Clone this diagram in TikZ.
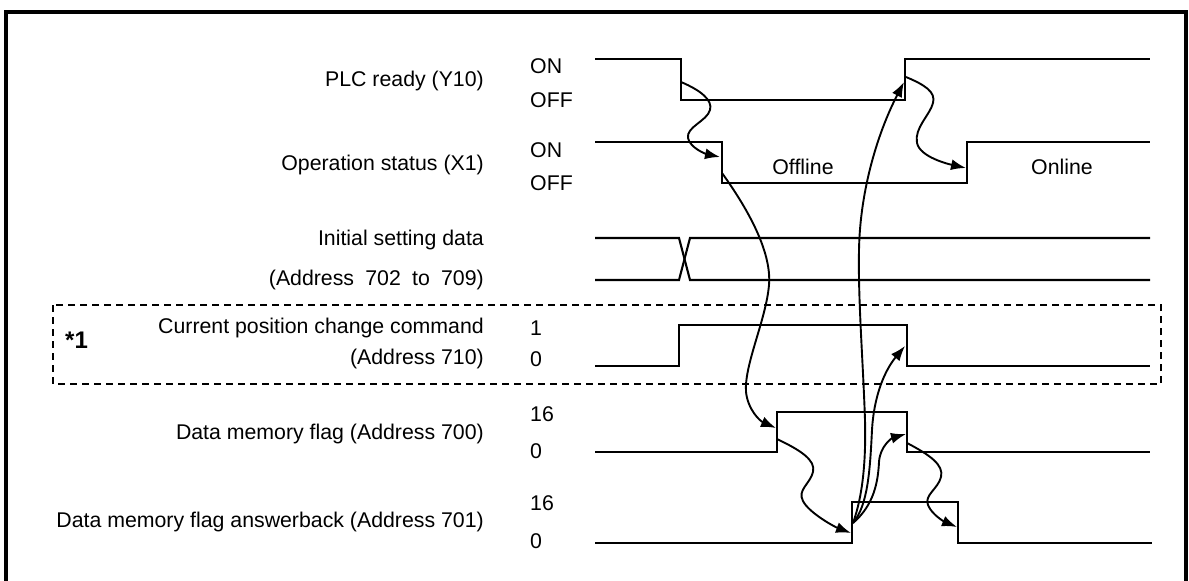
\documentclass[tikz,border=0pt]{standalone}
\usepackage{fontspec}
\setmainfont{Liberation Sans}
\usetikzlibrary{arrows.meta}
\tikzset{
  sig/.style={line width=2.1pt, line join=miter, line cap=butt},
  arr/.style={line width=1.9pt, -{Latex[length=15pt,width=11pt]}},
  lbl/.style={anchor=east, inner sep=0pt, font=\fontsize{21.3}{25}\selectfont},
  val/.style={anchor=west, inner sep=0pt, font=\fontsize{21.3}{25}\selectfont},
  txt/.style={inner sep=0pt, font=\fontsize{21.3}{25}\selectfont},
  frame/.style={line width=4pt},
  grp/.style={line width=2pt, dash pattern=on 7pt off 5pt}
}
\begin{document}
\begin{tikzpicture}[x=1pt,y=-1pt]
\useasboundingbox (0,0) rectangle (1189,581);
\clip (0,0) rectangle (1189,581);
% outer frame
\draw[frame] (6,600) -- (6,12) -- (1186,12) -- (1186,600);
% dashed group box
\draw[grp] (53,305) rectangle (1161,384);
\node[inner sep=0pt, anchor=west, font=\fontsize{24}{28}\selectfont\bfseries] (star) at (65,340) {*1};

% labels
\node[lbl] (lplc) at (484,81) {PLC ready (Y10)};
\node[lbl] (lops) at (484,165) {Operation status (X1)};
\node[lbl] (linit1) at (484,240) {Initial setting data};
\node[lbl] (linit2) at (484,280) {(Address\hspace{0.25em} 702\hspace{0.25em} to\hspace{0.25em} 709)};
\node[lbl] (lcmd1) at (484,328) {Current position change command};
\node[lbl] (lcmd2) at (484,359) {(Address 710)};
\node[lbl] (ldmf) at (484,434) {Data memory flag (Address 700)};
\node[lbl] (lans) at (484,522) {Data memory flag answerback (Address 701)};

% values
\node[val] (v1on) at (530,66) {ON};
\node[val] (v1off) at (530,100) {OFF};
\node[val] (v2on) at (530,150) {ON};
\node[val] (v2off) at (530,183) {OFF};
\node[val] (v4h) at (530,328) {1};
\node[val] (v4l) at (530,359) {0};
\node[val] (v5h) at (530,414) {16};
\node[val] (v5l) at (530,451) {0};
\node[val] (v6h) at (530,503) {16};
\node[val] (v6l) at (530,541) {0};

% state texts
\node[txt] (offl) at (803,167) {Offline};
\node[txt] (onl) at (1062,167) {Online};

% signal corner coordinates
\coordinate (p1) at (681,59); \coordinate (p2) at (681,100);
\coordinate (p3) at (905,100); \coordinate (p4) at (905,59);
\coordinate (o1) at (722,142); \coordinate (o2) at (722,183);
\coordinate (o3) at (967,183); \coordinate (o4) at (967,142);
\coordinate (c1) at (679,366); \coordinate (c2) at (679,325);
\coordinate (c3) at (907,325); \coordinate (c4) at (907,366);
\coordinate (d1) at (777,452); \coordinate (d2) at (777,412);
\coordinate (d3) at (907,412); \coordinate (d4) at (907,452);
\coordinate (a1) at (852,543); \coordinate (a2) at (852,502);
\coordinate (a3) at (958,502); \coordinate (a4) at (958,543);

% PLC ready
\draw[sig] (595,59) -- (p1) -- (p2) -- (p3) -- (p4) -- (1150,59);
% Operation status
\draw[sig] (595,142) -- (o1) -- (o2) -- (o3) -- (o4) -- (1150,142);
% Initial setting data
\draw[sig] (595,238) -- (679,238) -- (690,280) -- (1150,280);
\draw[sig] (595,280) -- (679,280) -- (690,238) -- (1150,238);
% Current position change command
\draw[sig] (595,366) -- (c1) -- (c2) -- (c3) -- (c4) -- (1150,366);
% Data memory flag
\draw[sig] (595,452) -- (d1) -- (d2) -- (d3) -- (d4) -- (1150,452);
% Answerback
\draw[sig] (595,543) -- (a1) -- (a2) -- (a3) -- (a4) -- (1152,543);

% arrow anchor points
\coordinate (s1) at (681,82);   \coordinate (t1) at (720,157);
\coordinate (s2) at (722,173);  \coordinate (t2) at (776,428);
\coordinate (s3) at (777,439);  \coordinate (t3) at (851,533);
\coordinate (s4) at (853,523);
\coordinate (t4a) at (904,82);  \coordinate (t4b) at (905,346); \coordinate (t4c) at (906,434);
\coordinate (s5) at (906,77);   \coordinate (t5) at (966,168);
\coordinate (s6) at (907,443);  \coordinate (t6) at (957,527);

\draw[arr] (s1) .. controls (700,90) and (713,100) .. (710,110)
  .. controls (707,121) and (686,127) .. (688,138)
  .. controls (690,148) and (706,154) .. (t1);
\draw[arr] (s2) .. controls (745,205) and (772,250) .. (769,285)
  .. controls (766,320) and (744,365) .. (746,392)
  .. controls (748,410) and (760,421) .. (t2);
\draw[arr] (s3) .. controls (800,450) and (816,460) .. (813,472)
  .. controls (810,484) and (797,490) .. (803,501)
  .. controls (809,513) and (835,527) .. (t3);
\draw[arr] (s4) .. controls (863,495) and (866,460) .. (865,420)
  .. controls (863,360) and (858,300) .. (859,250)
  .. controls (860,190) and (878,132) .. (t4a);
\draw[arr] (s4) .. controls (868,505) and (870,470) .. (872,430)
  .. controls (874,395) and (885,370) .. (t4b);
\draw[arr] (s4) .. controls (874,505) and (878,482) .. (879,462)
  .. controls (880,446) and (892,438) .. (t4c);
\draw[arr] (s5) .. controls (925,85) and (936,92) .. (933,103)
  .. controls (930,115) and (914,128) .. (917,143)
  .. controls (920,157) and (948,164) .. (t5);
\draw[arr] (s6) .. controls (930,455) and (944,465) .. (941,477)
  .. controls (938,489) and (924,495) .. (928,505)
  .. controls (932,515) and (945,522) .. (t6);
\end{tikzpicture}
\end{document}
